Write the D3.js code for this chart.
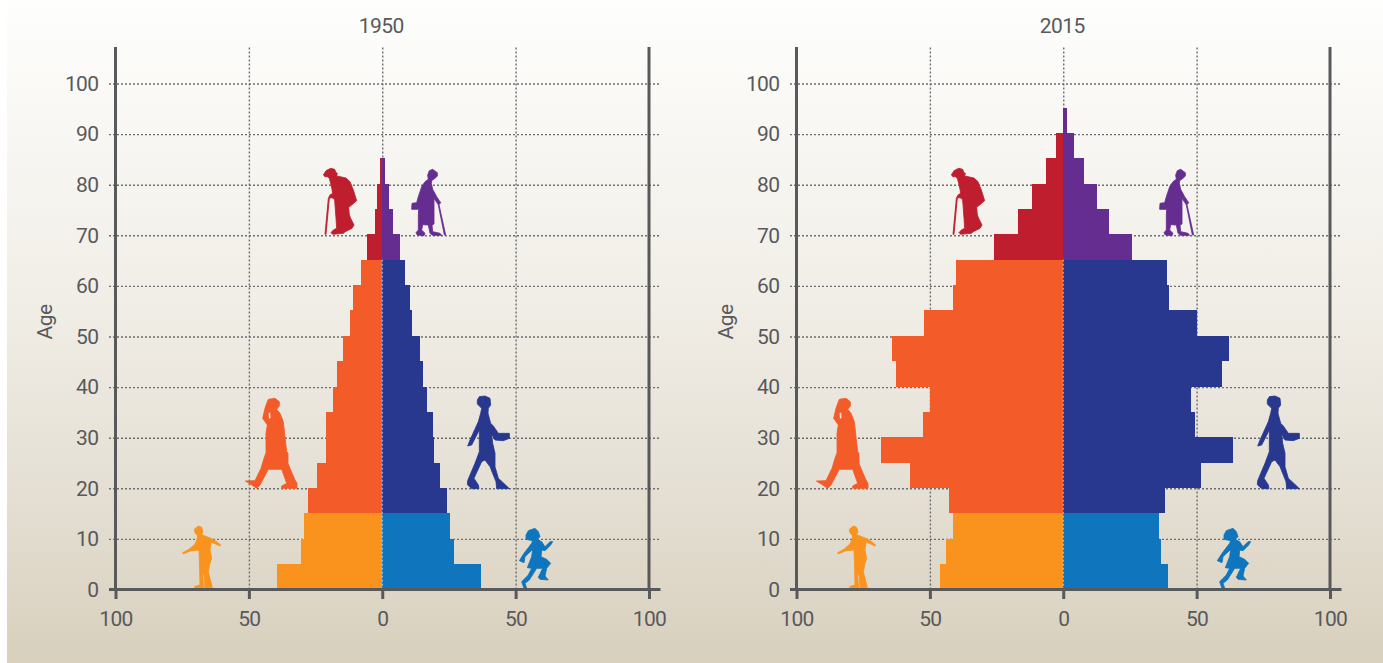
<!DOCTYPE html>
<html>
<head>
<meta charset="utf-8">
<script src="https://cdn.jsdelivr.net/npm/d3@7"></script>
<style>
html,body{margin:0;padding:0;background:#fff;}
svg{display:block;}
text{font-family:Roboto,sans-serif;font-size:21px;letter-spacing:-0.6px;fill:#58595b;}
</style>
</head>
<body>
<div id="chart"></div>
<script>
/* Population pyramids, 1950 and 2015. Each bar is a 5 year age band, coloured by
   life stage; the figures are hand traced outlines sitting on the grid. */
var ageBands=[0,5,10,15,20,25,30,35,40,45,50,55,60,65,70,75,80,85,90];
var male1950=[39.4,30.4,29.3,27.9,24.6,20.9,20.9,18.6,16.8,14.9,12.2,11.1,8.1,5.9,2.9,1.8,1.0];
var female1950=[37.1,27,25.5,24.2,21.5,19.3,18.9,16.6,15.1,14,11,10.3,8.4,6.5,3.9,2.4,0.9];
var male2015=[46.1,43.9,41.3,42.8,57.4,68.3,52.5,50,62.6,64.1,52.1,41.3,40.1,25.9,16.9,11.6,6.4,2.6];
var female2015=[39.4,36.8,36,38.3,51.8,63.8,49.5,48,59.6,62.3,50,39.8,39,25.9,17.3,12.8,7.9,4.1,1.5];
var panelYears=["1950","2015"];
var xTicks=[-100,-50,0,50,100];
var ageTicks=[0,10,20,30,40,50,60,70,80,90,100];

var colMaleYoung="#f9931d",colMaleAdult="#f35b29",colMaleOld="#be1e2d";
var colFemaleYoung="#0f75bc",colFemaleAdult="#27388e",colFemaleOld="#662d91";
var inkColor="#58595b",dotColor="#6d6e71";

// outlines traced at 3x; ox,oy is where the tracing sits in the 1950 panel, dx the shift for 2015
var figures=[
 {fill:colMaleOld,ox:240,oy:150,dx:-53,d:"M250,75L258,62L272,55L284,58L288,68L292,70L290,78L300,80L318,84L330,95L340,120L350,152L335,165L326,172L328,195L332,205L342,225L336,235L316,245L310,250L278,253L273,248L280,240L290,235L288,205L284,150L280,145L274,143L268,145L258,253L255,253L265,145L270,135L278,130L276,118L272,100L268,85L262,80L255,80Z"},
 {fill:colFemaleOld,ox:240,oy:150,dx:67,d:"M578,58L592,68L592,78L582,88L576,90L574,100L578,118L590,140L598,152L602,158L597,164L617,255L613,255L595,165L592,160L582,145L582,170L582,222L576,225L578,245L600,250L605,256L578,256L570,250L565,225L548,224L545,240L555,250L552,257L532,255L528,248L535,240L535,195L536,178L515,178L516,160L530,158L535,140L545,110L555,95L565,88L563,75L568,62Z"},
 {fill:colMaleAdult,ox:240,oy:150,dx:-110,d:"M85,748L105,745L118,755L118,768L110,778L120,790L130,815L135,860L140,905L144,910L144,940L150,955L165,990L171,1000L171,1015L125,1015L125,1008L140,1000L125,958L85,958L60,1005L50,1015L35,1005L16,993L45,992L63,955L72,925L78,908L78,850L82,825L68,805L75,775L82,755ZM84,790L92,785L93,805L86,808Z"},
 {fill:colFemaleAdult,ox:240,oy:150,dx:109,d:"M718,740L735,738L750,745L752,765L745,775L744,790L752,820L760,828L775,850L808,850L808,865L790,872L765,870L755,852L758,880L765,910L765,950L775,985L800,1008L808,1016L770,1016L768,995L750,950L735,930L725,935L702,985L715,1005L717,1016L695,1016L682,1004L683,992L690,975L705,940L718,905L718,840L695,885L683,888L690,870L715,815L722,790L725,775L712,762L712,750Z"},
 {fill:colMaleYoung,ox:175,oy:520,dx:-26,d:"M70,18L80,22L84,35L80,44L90,48L110,56L125,65L137,75L135,78L122,72L108,66L105,90L110,115L105,130L100,155L110,195L112,202L90,203L88,170L82,155L85,190L87,203L60,203L58,200L75,195L74,150L73,120L72,90L45,93L25,102L23,98L42,88L60,72L66,58L68,48L60,38L58,28Z"},
 {fill:colFemaleYoung,ox:380,oy:500,dx:17,d:"M445,92L465,85L475,95L480,110L472,118L485,125L495,140L510,125L518,125L512,135L495,152L485,150L483,170L500,178L512,190L500,205L495,228L505,240L480,238L475,232L488,205L470,205L448,240L435,250L440,265L432,265L425,245L445,225L455,205L442,203L455,170L458,148L435,170L432,188L418,182L432,160L455,130L458,122L438,118L438,105Z"}
];

var W=1383,H=663;
var svg=d3.select("#chart").append("svg").attr("width",W).attr("height",H);

var grad=svg.append("defs").append("linearGradient").attr("id","bg").attr("x1",0).attr("y1",0).attr("x2",0).attr("y2",1);
grad.append("stop").attr("offset","0%").attr("stop-color","#fefefd");
grad.append("stop").attr("offset","45%").attr("stop-color","#f1eee7");
grad.append("stop").attr("offset","78%").attr("stop-color","#e3ddd1");
grad.append("stop").attr("offset","100%").attr("stop-color","#d8d0bd");
svg.append("rect").attr("x",7).attr("y",0).attr("width",W-7).attr("height",H).attr("fill","url(#bg)");

var x=d3.scaleLinear().domain([-100,100]).range([115.5,649]);
var y=d3.scaleLinear().domain([0,100]).range([589.5,83.5]);
// bars run slightly taller than the printed age axis, top of the 90-95 band ends at 108px
var yBar=d3.scaleLinear().domain([0,95]).range([589.5,107.5]);

function bandColor(age,side){
    if(age<15) return side<0?colMaleYoung:colFemaleYoung;
    if(age<65) return side<0?colMaleAdult:colFemaleAdult;
    return side<0?colMaleOld:colFemaleOld;
}

function drawPanel(panelIdx,males,females){
    var g=svg.append("g").attr("transform","translate("+(panelIdx*681)+",0)");
    var top=47;

    // grid
    var gridX=g.append("g").attr("transform","translate(0,"+y(0)+")")
        .call(d3.axisBottom(x).tickValues([-50,0,50]).tickSize(top-y(0)).tickFormat(""));
    gridX.select(".domain").remove();
    gridX.selectAll("line").attr("stroke",dotColor).attr("stroke-width",1.4).attr("stroke-dasharray","2 2");
    var gridY=g.append("g").attr("transform","translate("+x(-100)+",0)")
        .call(d3.axisLeft(y).tickValues(ageTicks.slice(1)).tickSize(0).tickFormat(""));
    gridY.select(".domain").remove();
    gridY.selectAll("line").attr("x1",-6.5).attr("x2",x(100)-x(-100)+11)
        .attr("stroke",dotColor).attr("stroke-width",1.4).attr("stroke-dasharray","2 2");

    // bars
    var rows=[];
    males.forEach(function(v,i){rows.push({age:ageBands[i],v:v,side:-1});});
    females.forEach(function(v,i){rows.push({age:ageBands[i],v:v,side:1});});
    g.append("g").attr("shape-rendering","crispEdges").selectAll("rect").data(rows).enter().append("rect")
        .attr("x",function(d){return d.side<0?x(-d.v):x(0);})
        .attr("width",function(d){return x(d.v)-x(0);})
        .attr("y",function(d){return yBar(d.age+5);})
        .attr("height",function(d){return yBar(d.age)-yBar(d.age+5);})
        .attr("fill",function(d){return bandColor(d.age,d.side);});

    // pale dots where the two sides meet
    g.append("line").attr("x1",x(0)).attr("x2",x(0)).attr("y1",yBar(65)).attr("y2",y(0))
        .attr("stroke","#fff").attr("stroke-opacity",0.7).attr("stroke-width",1).attr("stroke-dasharray","2 2");

    // figures, fattened a little with a round stroke so the outline is not so angular
    g.append("g").selectAll("path").data(figures).enter().append("path")
        .attr("transform",function(f){return "translate("+(f.ox+(panelIdx?f.dx:0))+","+f.oy+") scale("+(1/3)+")";})
        .attr("d",function(f){return f.d;})
        .attr("fill-rule","evenodd")
        .attr("fill",function(f){return f.fill;})
        .attr("stroke",function(f){return f.fill;})
        .attr("stroke-width",2.5)
        .attr("stroke-linejoin","round");

    // axes
    var axB=g.append("g").attr("transform","translate(0,"+y(0)+")")
        .call(d3.axisBottom(x).tickValues(xTicks).tickSize(9.5).tickPadding(12).tickFormat(function(d){return Math.abs(d);}));
    axB.select(".domain").remove();
    axB.selectAll("line").attr("stroke",inkColor).attr("stroke-width",3);
    axB.selectAll("text").attr("fill",inkColor).style("font-size","21px");
    axB.append("line").attr("x1",x(-100)-6.5).attr("x2",x(100)+11.5).attr("stroke",inkColor).attr("stroke-width",3);

    var axL=g.append("g").attr("transform","translate("+x(-100)+",0)")
        .call(d3.axisLeft(y).tickValues(ageTicks).tickSize(0).tickPadding(17));
    axL.select(".domain").remove();
    axL.selectAll("text").attr("fill",inkColor).style("font-size","21px");

    [-100,100].forEach(function(v){
        g.append("line").attr("x1",x(v)).attr("x2",x(v)).attr("y1",47).attr("y2",y(0)+1)
            .attr("stroke",inkColor).attr("stroke-width",3);
    });

    g.append("text").attr("x",x(0)-1).attr("y",33).attr("text-anchor","middle").text(panelYears[panelIdx]);
    g.append("text").attr("transform","translate(52,322) rotate(-90)").attr("text-anchor","middle").text("Age");
}

drawPanel(0,male1950,female1950);
drawPanel(1,male2015,female2015);
</script>
</body>
</html>
